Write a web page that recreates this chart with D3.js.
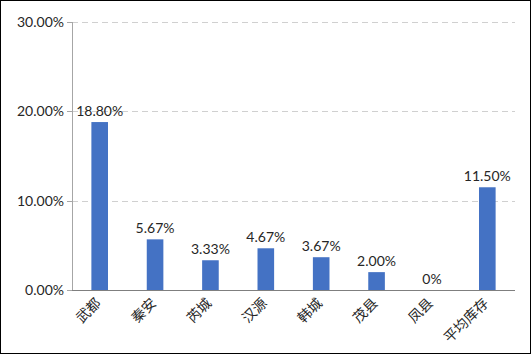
<!DOCTYPE html>
<html lang="zh">
<head>
  <meta charset="UTF-8">
  <title>库存比例</title>
  <style>
    body { margin: 0; background: #fff; }
    svg { display: block; }
    .tick-label { font-family: Lato, "Open Sans", sans-serif; font-size: 14px; fill: #262626; }
    .cat-label { font-family: "Noto Sans CJK SC", sans-serif; font-size: 14px; fill: #262626; }
    .val-label { font-family: Lato, "Open Sans", sans-serif; font-size: 14px; fill: #262626; }
  </style>
</head>
<body>
  <script src="https://d3js.org/d3.v7.min.js"></script>
  <script>
    const categories = ["武都", "秦安", "芮城", "汉源", "韩城", "茂县", "凤县", "平均库存"];
    const values = [18.80, 5.67, 3.33, 4.67, 3.67, 2.00, 0, 11.50];
    const valueLabels = ["18.80%", "5.67%", "3.33%", "4.67%", "3.67%", "2.00%", "0%", "11.50%"];
    const yTicks = [0, 10, 20, 30];

    const width = 531, height = 354;
    const mLeft = 72, mRight = 515, mTop = 22, mBottom = 290;

    const svg = d3.select("body").append("svg").attr("width", width).attr("height", height);

    // outer frame
    svg.append("rect")
      .attr("x", 0.5).attr("y", 0.5).attr("width", width - 1).attr("height", height - 1)
      .attr("fill", "none").attr("stroke", "#000");

    const x = d3.scaleBand().domain(categories).range([mLeft, mRight]).paddingInner(0.7).paddingOuter(0.35);
    const y = d3.scaleLinear().domain([0, 30]).range([mBottom, mTop]);

    // gridlines
    svg.append("g").selectAll("line").data(yTicks.filter(d => d > 0)).enter().append("line")
      .attr("x1", mLeft).attr("x2", mRight)
      .attr("y1", d => Math.round(y(d)) + 0.5).attr("y2", d => Math.round(y(d)) + 0.5)
      .attr("stroke", "#d0d0d0").attr("stroke-dasharray", "6,4");

    // y axis line + ticks
    svg.append("line")
      .attr("x1", mLeft + 0.5).attr("x2", mLeft + 0.5).attr("y1", y(30)).attr("y2", mBottom)
      .attr("stroke", "#a6a6a6");
    svg.append("g").selectAll("line").data(yTicks).enter().append("line")
      .attr("x1", mLeft - 5).attr("x2", mLeft)
      .attr("y1", d => Math.round(y(d)) + 0.5).attr("y2", d => Math.round(y(d)) + 0.5)
      .attr("stroke", "#a6a6a6");
    svg.append("g").selectAll("text").data(yTicks).enter().append("text")
      .attr("class", "tick-label")
      .attr("x", mLeft - 8).attr("y", d => y(d) + 5)
      .attr("text-anchor", "end")
      .text(d => d.toFixed(2) + "%");

    // bars
    svg.append("g").selectAll("rect").data(values).enter().append("rect")
      .attr("x", (d, i) => x(categories[i]))
      .attr("y", d => y(d))
      .attr("width", x.bandwidth())
      .attr("height", d => mBottom - y(d))
      .attr("fill", "#4472c4");

    // baseline
    svg.append("line")
      .attr("x1", mLeft).attr("x2", mRight)
      .attr("y1", mBottom + 0.5).attr("y2", mBottom + 0.5)
      .attr("stroke", "#7f7f7f");

    // value labels
    svg.append("g").selectAll("text").data(values).enter().append("text")
      .attr("class", "val-label")
      .attr("x", (d, i) => x(categories[i]) + x.bandwidth() / 2)
      .attr("y", d => y(d) - 6)
      .attr("text-anchor", "middle")
      .text((d, i) => valueLabels[i]);

    // category labels, rotated
    svg.append("g").selectAll("text").data(categories).enter().append("text")
      .attr("class", "cat-label")
      .attr("text-anchor", "end")
      .attr("transform", d => `translate(${x(d) + x.bandwidth() / 2 + 2},${mBottom + 14}) rotate(-45)`)
      .text(d => d);
  </script>
</body>
</html>
